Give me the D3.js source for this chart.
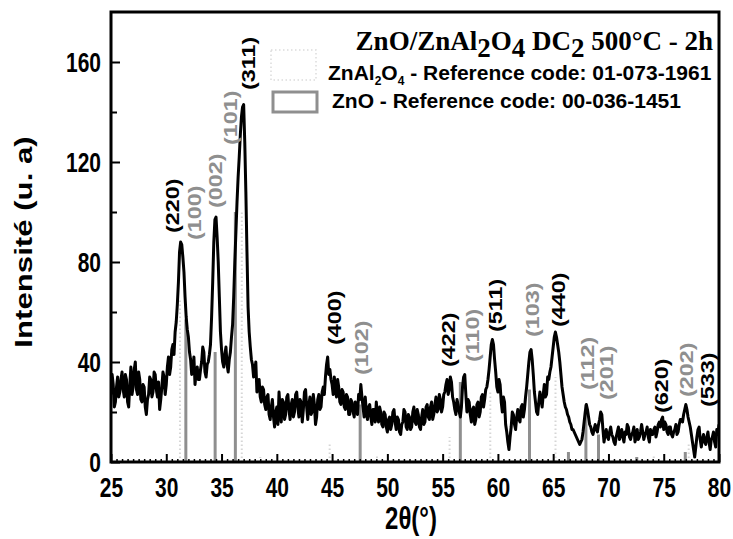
<!DOCTYPE html>
<html><head><meta charset="utf-8">
<script src="https://cdn.jsdelivr.net/npm/d3@7"></script>
<style>body{margin:0;background:#fff;} svg{display:block;}</style>
</head><body><svg id="chart" width="733" height="539"></svg>
<script>
// ---------------- DATA ----------------
const startAngle = 25, stepAngle = 0.1;   // 2θ sampling of the pattern
const intensity = [
 27,35,31,22,24,30,34,26,28,33,
 36,29,26,35,33,24,22,31,38,27,
 30,37,40,29,27,36,33,25,24,31,
 30,22,19,25,27,34,33,26,28,36,
 35,29,26,32,21,25,30,36,34,27,
 31,38,42,35,38,45,47,43,52,56,
 63,72,84,88,87,82,76,66,58,53,
 50,44,41,35,37,42,31,36,38,33,
 33,37,40,46,44,36,34,39,40,43,
 47,58,72,88,97,98,90,80,66,52,
 45,40,38,43,46,39,36,41,44,50,
 55,66,80,92,104,114,122,131,138,142,
 143,128,108,84,62,52,46,41,39,34,
 36,40,28,31,33,26,24,30,29,23,
 21,26,27,19,17,22,25,18,14,20,
 22,15,28,21,16,25,24,17,19,26,
 27,21,17,23,25,18,20,27,28,22,
 18,25,24,16,21,28,29,22,17,23,
 26,19,20,27,23,15,18,25,27,21,
 22,28,30,27,34,39,42,35,37,33,
 31,27,34,29,26,33,30,24,23,29,
 28,22,21,27,26,19,19,25,24,20,
 18,24,22,19,27,25,31,26,22,18,
 26,20,17,22,23,18,15,21,21,16,
 24,18,16,22,20,15,14,20,19,14,
 12,17,18,13,15,20,21,16,13,18,
 17,12,11,15,16,21,20,14,13,19,
 18,13,14,20,22,16,15,21,19,14,
 13,18,21,15,16,22,23,18,17,22,
 24,17,19,23,26,20,21,27,25,20,
 22,27,28,31,33,27,29,34,32,26,
 24,21,19,25,23,20,18,22,30,34,
 35,27,20,25,24,19,16,21,22,15,
 17,23,24,18,20,26,27,22,25,29,
 30,33,37,42,47,49,47,41,36,30,
 28,33,31,24,20,26,24,15,12,8,
 5,10,14,20,19,15,13,18,21,17,
 16,22,23,18,21,26,30,35,40,44,
 45,41,35,28,24,20,19,24,28,25,
 22,27,31,26,27,34,33,36,38,42,
 46,50,52,50,47,44,40,35,30,27,
 24,22,21,19,18,16,15,13,13,12,
 11,10,9,8,7,8,9,12,16,20,
 23,21,18,15,14,12,11,13,15,13,
 12,15,17,20,19,13,8,11,13,10,
 9,12,14,11,10,8,7,10,12,14,
 9,11,13,10,8,12,11,15,14,10,
 9,11,12,14,8,10,13,9,10,12,
 15,12,9,11,12,14,10,8,13,11,
 11,13,14,10,12,15,16,14,17,18,
 13,16,15,12,11,14,14,11,10,12,
 13,15,11,12,15,17,17,16,19,21,
 23,21,18,16,14,11,8,5,2,6,
 10,13,14,9,6,9,11,8,7,10,
 12,8,5,9,10,12,8,6,13,11,
 15
];
// ZnO reference (00-036-1451)
const znoAngles    = [31.77,34.42,36.25,47.54,56.60,62.86,66.38,67.96,69.10,72.56,76.95];
const znoIntensity = [57,44,100,23,32,29,4,23,11,2,4];
// ZnAl2O4 reference (01-073-1961)
const spinelAngles    = [31.24,36.83,38.50,44.78,49.06,55.63,59.31,65.21,74.10,77.26];
const spinelIntensity = [65,100,2,8,3,10,28,34,3,7];
// hkl labels: [label, 2θ, intensity level of label start]
const spinelLabels = [["(220)",30.61,91.6],["(311)",37.40,148.8],["(400)",45.18,46.8],["(422)",55.50,38],
  ["(511)",59.75,52],["(440)",65.45,54],["(620)",74.77,19.6],["(533)",78.94,22]];
const znoLabels = [["(100)",32.51,88.8],["(002)",34.41,101.6],["(101)",35.77,126.8],["(102)",47.62,34.8],
  ["(110)",57.67,40],["(103)",63.10,50],["(112)",68.08,28.8],["(201)",69.80,24.8],["(202)",77.04,26]];
const xTicks = [25,30,35,40,45,50,55,60,65,70,75,80];
const yTicks = [0,40,80,120,160];
const yMinorTicks = [20,60,100,140];
const xDomain = [25,80], yDomain = [0,180];

// ---------------- CHART ----------------
const svg = d3.select("#chart");
const L = 111, R = 719, T = 12, B = 462;
const x = d3.scaleLinear().domain(xDomain).range([L, R]);
const y = d3.scaleLinear().domain(yDomain).range([B, T]);
const SY = 1.3; // vertical stretch of the figure's text
const sans = "'Liberation Sans', Arial, sans-serif";
const gray = "#8f8f8f";

svg.append("defs").append("clipPath").attr("id","clip")
  .append("rect").attr("x",L).attr("y",T).attr("width",R-L).attr("height",B-T);

// spinel reference lines (light dotted)
svg.append("g").selectAll("line").data(spinelAngles).join("line")
  .attr("x1",d=>x(d)).attr("x2",d=>x(d))
  .attr("y1",y(0)).attr("y2",(d,i)=>y(spinelIntensity[i]))
  .attr("stroke","#d6d6d6").attr("stroke-width",2).attr("stroke-dasharray","1.5,2.5");

// ZnO reference lines
svg.append("g").selectAll("line").data(znoAngles).join("line")
  .attr("x1",d=>x(d)).attr("x2",d=>x(d))
  .attr("y1",y(0)).attr("y2",(d,i)=>y(znoIntensity[i]))
  .attr("stroke",gray).attr("stroke-width",3);

// pattern
const pts = intensity.map((v,i)=>[startAngle + i*stepAngle, v]);
svg.append("path").datum(pts)
  .attr("clip-path","url(#clip)")
  .attr("d", d3.line().x(d=>x(d[0])).y(d=>y(d[1])))
  .attr("fill","none").attr("stroke","#000").attr("stroke-width",3)
  .attr("stroke-linejoin","round");

// axes ticks
const xMinor = d3.range(25, 80.01, 0.5).filter(v=>!xTicks.includes(v));
svg.append("g").attr("transform",`translate(0,${B})`)
  .call(d3.axisBottom(x).tickValues(xMinor).tickSize(-3).tickFormat(""))
  .call(g=>g.select(".domain").remove())
  .selectAll("line").attr("stroke","#000").attr("stroke-width",1.5);
const gx = svg.append("g").attr("transform",`translate(0,${B})`)
  .call(d3.axisBottom(x).tickValues(xTicks).tickSize(-8).tickFormat(d3.format("d")))
  .call(g=>g.select(".domain").remove());
gx.selectAll("line").attr("stroke","#000").attr("stroke-width",2);
gx.selectAll("text").attr("font-family",sans).attr("font-weight","bold").attr("font-size",21)
  .attr("fill","#000").attr("y",25/SY).attr("dy","0.35em").attr("transform",`scale(1,${SY})`);

svg.append("g").attr("transform",`translate(${L},0)`)
  .call(d3.axisLeft(y).tickValues(yMinorTicks).tickSize(-6).tickFormat(""))
  .call(g=>g.select(".domain").remove())
  .selectAll("line").attr("stroke","#000").attr("stroke-width",2);
const gy = svg.append("g").attr("transform",`translate(${L},0)`)
  .call(d3.axisLeft(y).tickValues(yTicks).tickSize(-9).tickFormat(d3.format("d")))
  .call(g=>g.select(".domain").remove());
gy.selectAll("line").attr("stroke","#000").attr("stroke-width",2);
gy.selectAll("text").attr("font-family",sans).attr("font-weight","bold").attr("font-size",21)
  .attr("fill","#000").attr("x",-10).attr("dy","0.34em").attr("transform",`scale(1,${SY})`);

// frame
svg.append("rect").attr("x",L).attr("y",T).attr("width",R-L).attr("height",B-T)
  .attr("fill","none").attr("stroke","#000").attr("stroke-width",3);

// hkl labels
function hkl(data, color){
  svg.append("g").selectAll("g").data(data).join("g")
    .attr("transform",d=>`translate(${x(d[1])},${y(d[2])}) scale(1,${SY}) rotate(-90)`)
    .append("text").text(d=>d[0])
    .attr("font-family",sans).attr("font-weight","bold").attr("font-size",18)
    .attr("fill",color).attr("dy","0.36em");
}
hkl(spinelLabels,"#000");
hkl(znoLabels,gray);

// axis titles
svg.append("g").attr("transform",`translate(23,242) scale(1,${SY}) rotate(-90)`)
  .append("text").text("Intensité (u. a)").attr("text-anchor","middle").attr("dy","0.36em")
  .attr("font-family",sans).attr("font-weight","bold").attr("font-size",24);
svg.append("g").attr("transform",`translate(411,518) scale(1,${SY})`)
  .append("text").text("2θ(°)").attr("text-anchor","middle").attr("dy","0.36em")
  .attr("font-family",sans).attr("font-weight","bold").attr("font-size",24);

// title
const title = svg.append("text").attr("x",713).attr("y",50).attr("text-anchor","end")
  .attr("font-family","'Liberation Serif','Times New Roman',serif").attr("font-weight","bold")
  .attr("font-size",27).attr("fill","#000");
title.append("tspan").text("ZnO/ZnAl");
title.append("tspan").text("2").attr("dy",7);
title.append("tspan").text("O").attr("dy",-7);
title.append("tspan").text("4").attr("dy",7);
title.append("tspan").text(" DC").attr("dy",-7);
title.append("tspan").text("2").attr("dy",7);
title.append("tspan").text(" 500°C - 2h").attr("dy",-7);

// legend
svg.append("rect").attr("x",271).attr("y",50).attr("width",45).attr("height",30)
  .attr("fill","none").attr("stroke","#dcdcdc").attr("stroke-width",1.5).attr("stroke-dasharray","1.5,2.5");
svg.append("rect").attr("x",273).attr("y",92).attr("width",44).attr("height",20)
  .attr("fill","none").attr("stroke",gray).attr("stroke-width",3);
const lg1 = svg.append("text").attr("x",328).attr("y",80)
  .attr("font-family",sans).attr("font-weight","bold").attr("font-size",21);
lg1.append("tspan").text("ZnAl");
lg1.append("tspan").text("2").attr("font-size",12).attr("dy",5);
lg1.append("tspan").text("O").attr("dy",-5);
lg1.append("tspan").text("4").attr("font-size",12).attr("dy",5);
lg1.append("tspan").text(" - Reference code: 01-073-1961").attr("dy",-5);
svg.append("text").attr("x",332).attr("y",108)
  .attr("font-family",sans).attr("font-weight","bold").attr("font-size",21)
  .text("ZnO - Reference code: 00-036-1451");
</script></body></html>
